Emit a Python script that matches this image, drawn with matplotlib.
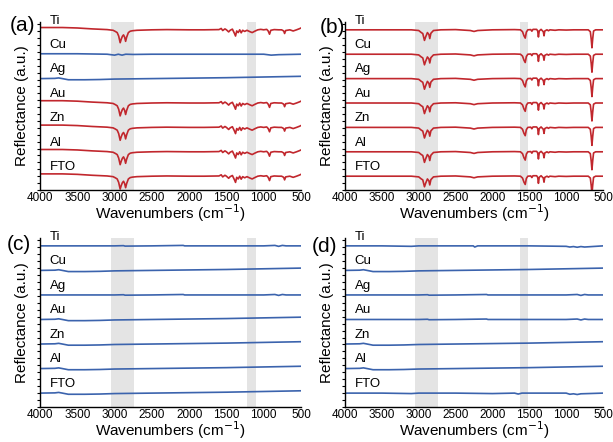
import matplotlib
matplotlib.use("Agg")
import matplotlib.pyplot as plt
import numpy as np

plt.rcParams['font.family'] = ['Liberation Sans', 'DejaVu Sans']

samples = ["Ti", "Cu", "Ag", "Au", "Zn", "Al", "FTO"]
offsets = [6.96, 5.90, 4.84, 3.78, 2.72, 1.66, 0.60]
xticks = [4000, 3500, 3000, 2500, 2000, 1500, 1000, 500]

# read-off spectral shapes (wavenumber, relative reflectance)
red_a_x = [4000, 3700, 3500, 3300, 3100, 3020, 2990, 2965, 2945, 2925, 2910, 2895, 2880, 2865,
           2852, 2838, 2815, 2790, 2760, 2700, 2500, 2300, 2000, 1800, 1600, 1570, 1550, 1520,
           1500, 1470, 1450, 1420, 1392, 1378, 1362, 1342, 1322, 1302, 1282, 1255, 1225, 1185,
           1155, 1120, 1080, 1040, 1000, 960, 940, 922, 905, 860, 800, 760, 732, 720, 705, 650,
           605, 560, 520, 500]
red_a_y = [0.10, 0.10, 0.08, 0.04, 0.01, -0.02, -0.07, -0.12, -0.27, -0.56, -0.40, -0.28,
           -0.22, -0.32, -0.50, -0.32, -0.12, -0.06, -0.04, -0.02, 0.00, 0.01, 0.00, 0.00, 0.01,
           0.06, -0.03, 0.04, 0.00, -0.09, -0.02, 0.03, -0.16, -0.27, -0.05, -0.12, 0.00, -0.13,
           -0.02, -0.07, -0.02, -0.08, -0.12, -0.06, 0.00, 0.02, 0.00, 0.02, -0.05, -0.19, -0.02,
           0.01, 0.00, 0.00, -0.05, -0.16, -0.03, 0.00, -0.05, 0.00, 0.05, 0.08]

red_b_x = [4000, 3100, 3000, 2965, 2945, 2922, 2905, 2882, 2862, 2850, 2835, 2800, 2700,
           2500, 2300, 2250, 2200, 2000, 1700, 1620, 1592, 1572, 1555, 1540, 1520, 1480, 1465,
           1450, 1400, 1386, 1376, 1365, 1340, 1310, 1300, 1290, 1260, 1240, 1220, 1150, 1100,
           1000, 900, 800, 700, 672, 660, 650, 640, 628, 600, 550, 500]
red_b_y = [0.00, 0.00, -0.03, -0.12, -0.16, -0.46, -0.30, -0.12, -0.20, -0.38, -0.15, -0.03,
           0.00, 0.01, -0.03, -0.07, -0.03, 0.00, 0.01, 0.00, -0.08, -0.26, -0.36, -0.10, 0.00,
           0.01, -0.06, 0.02, 0.02, -0.05, -0.31, -0.05, 0.02, -0.08, -0.26, -0.05, 0.00, -0.04,
           0.00, -0.02, 0.00, -0.01, 0.00, 0.00, 0.00, -0.08, -0.40, -0.78, -0.40, -0.05, 0.00,
           0.00, 0.00]

blue_flat_x = [4000, 3500, 3000, 2880, 2860, 2500, 2080, 2060, 1500, 1000, 850, 800, 750, 700, 500]
blue_flat_y = [0.00, 0.00, 0.00, 0.01, -0.01, 0.00, 0.02, 0.00, 0.00, 0.00, 0.02, -0.02, 0.02, 0.00, 0.00]

blue_cu_x = [4000, 3500, 3100, 3000, 2950, 2900, 2850, 2750, 2500, 2000, 1500, 1000, 900, 800, 500]
blue_cu_y = [0.02, 0.02, 0.00, -0.04, 0.00, -0.04, 0.00, -0.01, 0.00, 0.00, 0.00, 0.00, -0.04, -0.02, 0.00]

blue_drift_x = [4000, 3800, 3750, 3700, 3620, 3550, 3400, 3200, 3000, 2500, 2000, 1500, 1000, 500]
blue_drift_y = [0.00, 0.01, 0.03, 0.00, -0.05, -0.05, -0.05, -0.04, -0.02, 0.00, 0.02, 0.04, 0.07, 0.10]

blue_d_ti_x = [4000, 3500, 3100, 3000, 2500, 2260, 2240, 2200, 2000, 1500, 1000, 950, 900, 850, 800, 750, 500]
blue_d_ti_y = [0.00, 0.00, -0.02, 0.00, 0.00, 0.00, -0.05, 0.00, 0.00, 0.00, -0.02, -0.05, -0.03, -0.06, -0.03, -0.05, 0.00]

blue_d_fto_x = [4000, 3500, 3100, 3000, 2500, 2000, 1700, 1650, 1600, 1550, 1000, 950, 900, 850, 800, 500]
blue_d_fto_y = [0.00, 0.00, -0.02, 0.00, 0.00, -0.02, 0.00, -0.04, 0.00, 0.00, 0.00, -0.05, -0.03, -0.06, -0.03, 0.00]

shapes = {
    "red_a": (red_a_x, red_a_y),
    "red_b": (red_b_x, red_b_y),
    "flat": (blue_flat_x, blue_flat_y),
    "cu": (blue_cu_x, blue_cu_y),
    "drift": (blue_drift_x, blue_drift_y),
    "d_ti": (blue_d_ti_x, blue_d_ti_y),
    "d_fto": (blue_d_fto_x, blue_d_fto_y),
}

panel_a = ["red_a", "cu", "drift", "red_a", "red_a", "red_a", "red_a"]
panel_b = ["red_b"] * 7
panel_c = ["flat", "drift", "flat", "drift", "drift", "drift", "drift"]
panel_d = ["d_ti", "drift", "flat", "flat", "drift", "drift", "d_fto"]

bands_a = [(3050, 2740), (1220, 1100)]
bands_b = [(3050, 2740), (1625, 1515)]

RED = "#c1272d"
BLUE = "#3b63ad"

fig = plt.figure(figsize=(6.13, 4.42), dpi=100)
rects = [
    [40 / 613, 252 / 442, 261 / 613, 168 / 442],
    [345 / 613, 252 / 442, 258 / 613, 168 / 442],
    [40 / 613, 35 / 442, 261 / 613, 169 / 442],
    [345 / 613, 35 / 442, 258 / 613, 169 / 442],
]
panels = [panel_a, panel_b, panel_c, panel_d]
bands = [bands_a, bands_b, bands_a, bands_b]
tags = ["(a)", "(b)", "(c)", "(d)"]
tagpos = [(0.036, 0.943), (0.543, 0.938), (0.030, 0.447), (0.530, 0.443)]

for rect, panel, band, tag, tp in zip(rects, panels, bands, tags, tagpos):
    ax = fig.add_axes(rect)
    for b0, b1 in band:
        ax.axvspan(b1, b0, color="#e4e4e4", lw=0, zorder=0)
    for name, key, off in zip(samples, panel, offsets):
        xs, ys = shapes[key]
        color = RED if key.startswith("red") else BLUE
        ax.plot(xs, np.array(ys) + off, color=color, lw=1.2, zorder=2)
        ax.text(3870, off + 0.14, name, fontsize=9.5, ha="left", va="bottom", zorder=3)
    ax.set_xlim(4000, 500)
    ax.set_ylim(0, 7.3)
    ax.set_xticks(xticks)
    ax.set_xticklabels([str(t) for t in xticks], fontsize=8.5)
    ax.set_yticks(np.arange(0, 7.3, 0.3))
    ax.set_yticklabels([])
    ax.tick_params(axis="y", direction="out", length=2.5, width=0.8)
    ax.tick_params(axis="x", direction="out", length=0, pad=1.5)
    for s in ["top", "right"]:
        ax.spines[s].set_visible(False)
    for s in ["left", "bottom"]:
        ax.spines[s].set_linewidth(1.0)
    ax.set_xlabel("Wavenumbers (cm$^{-1}$)", fontsize=11, labelpad=-1)
    ax.set_ylabel("Reflectance (a.u.)", fontsize=11, labelpad=2)
    fig.text(tp[0], tp[1], tag, fontsize=15, ha="center", va="center")

fig.savefig("out.png", dpi=100)
